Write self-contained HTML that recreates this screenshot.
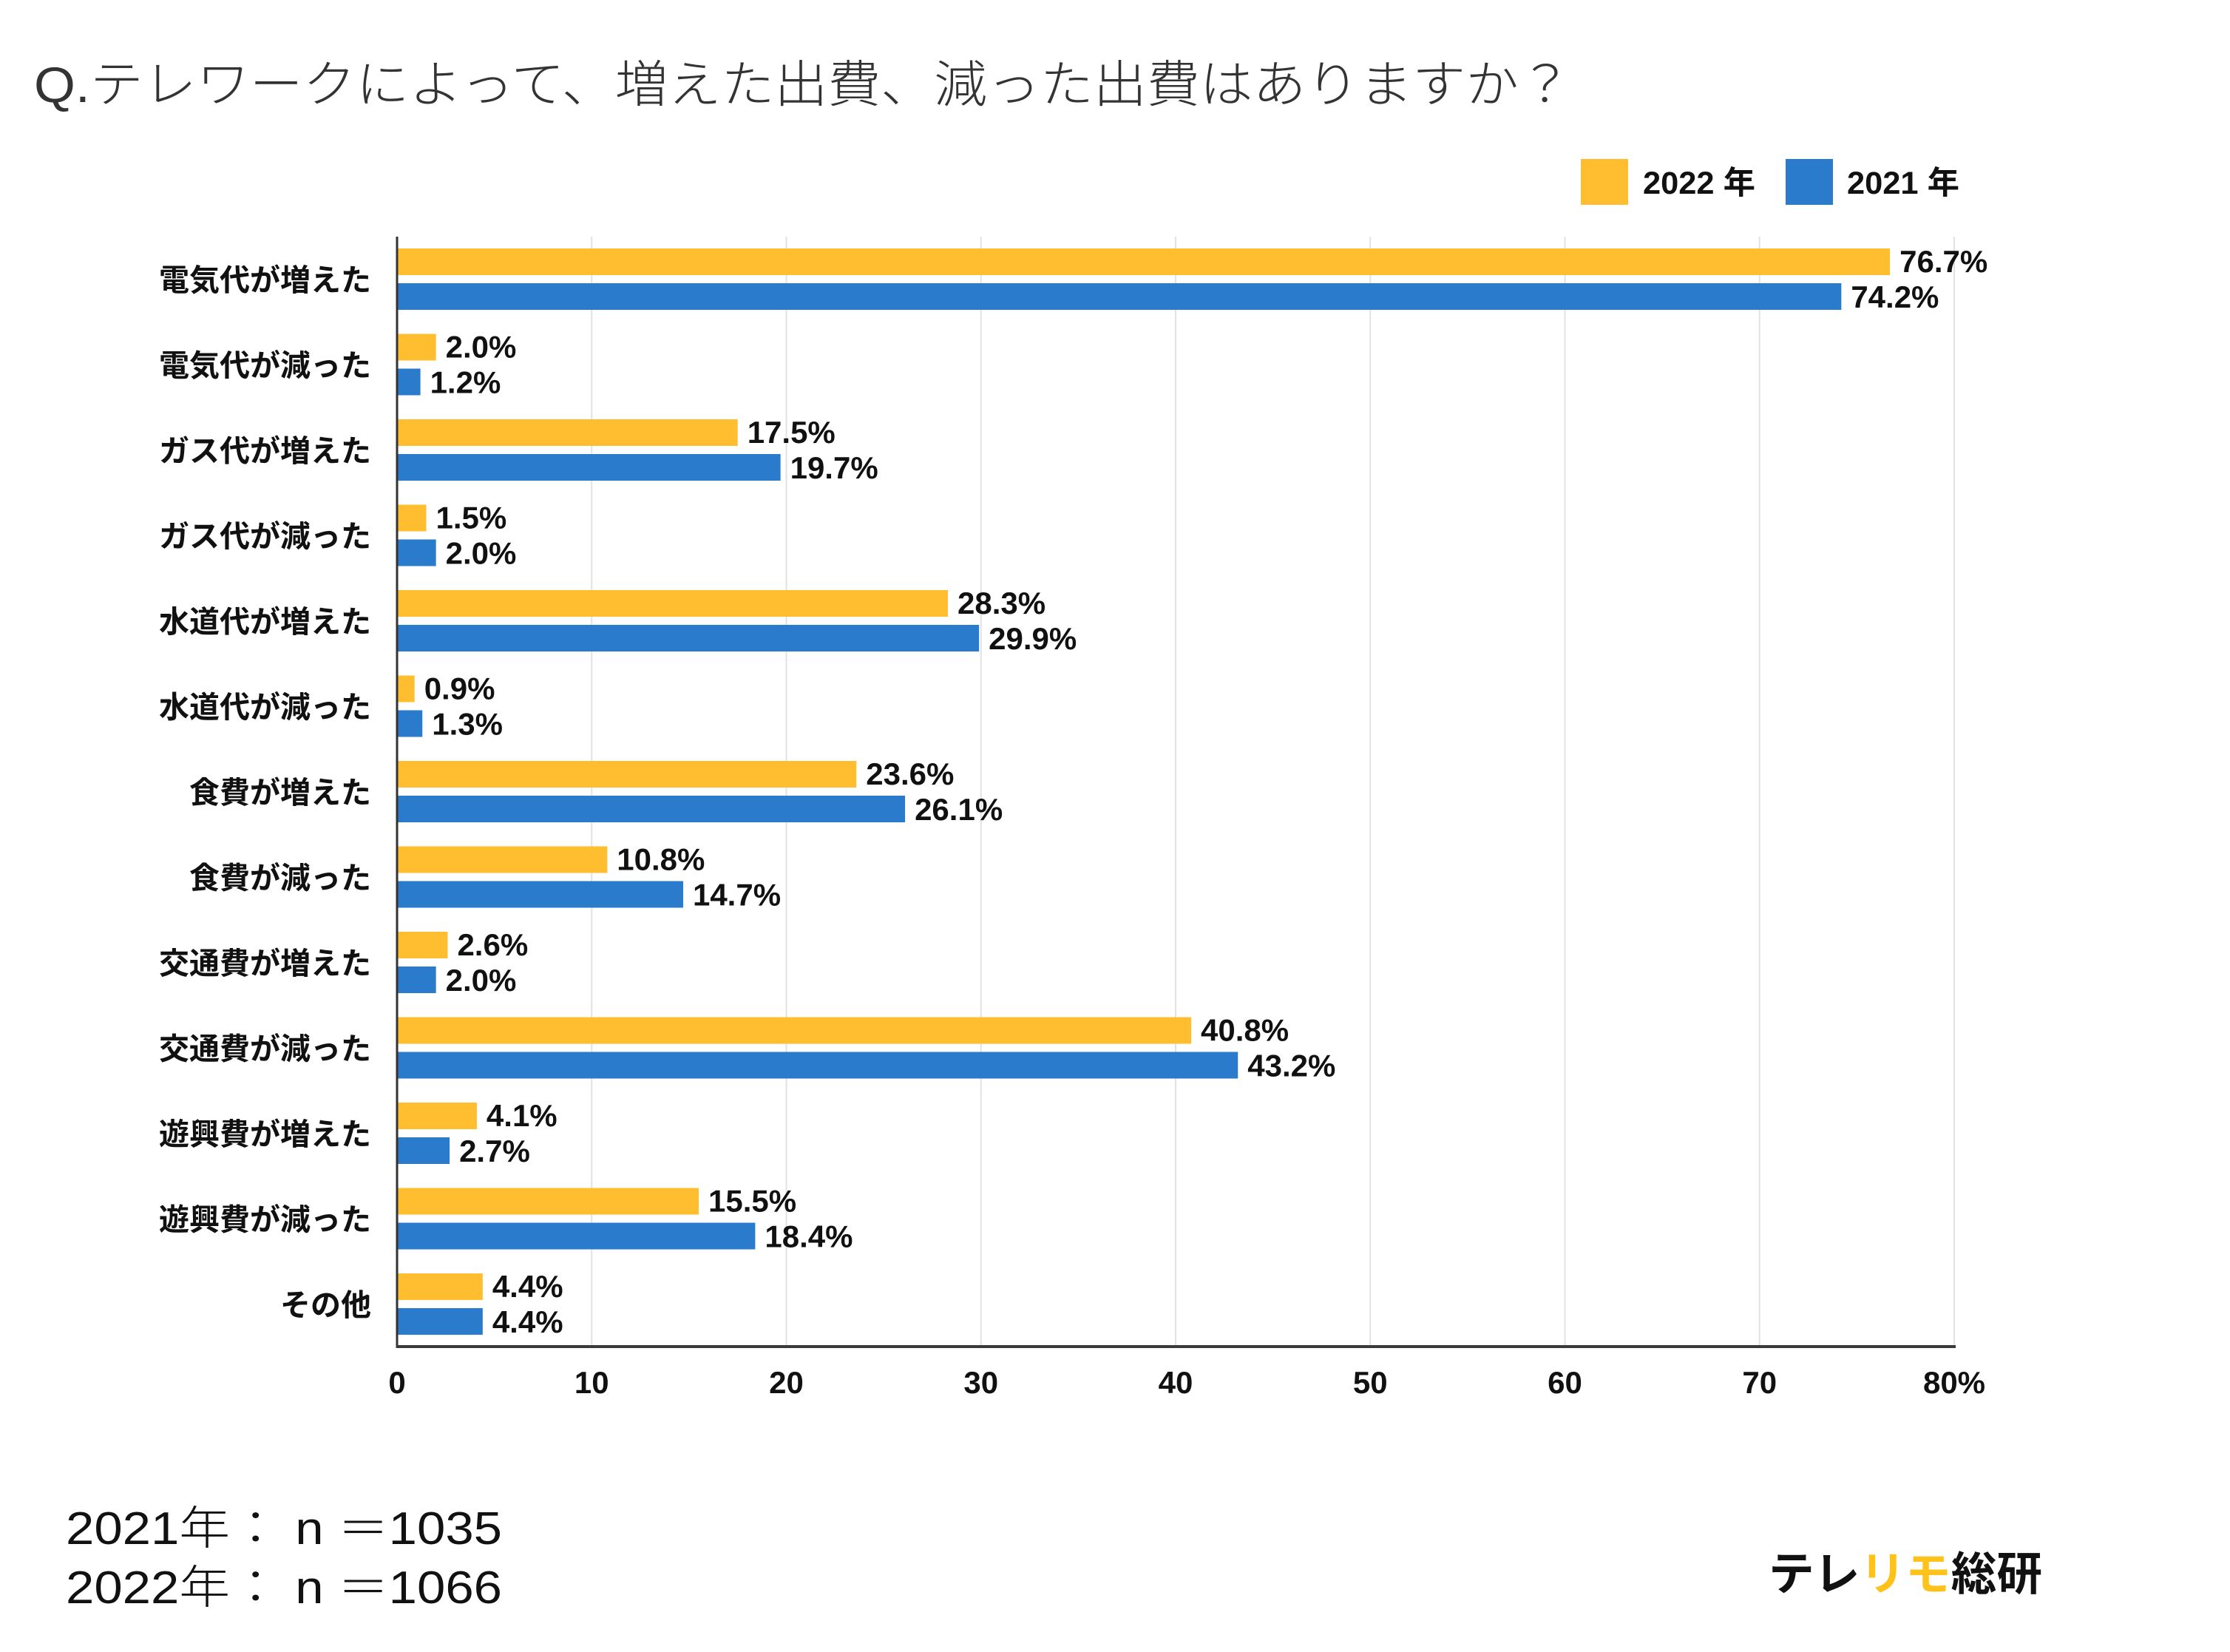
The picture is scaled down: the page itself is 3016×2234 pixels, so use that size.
<!DOCTYPE html>
<html><head><meta charset="utf-8"><style>
html,body{margin:0;padding:0;background:#fff;}
svg{display:block;}
text{font-family:"Liberation Sans","Noto Sans CJK JP",sans-serif;}
</style></head><body>
<svg id="chart" width="3016" height="2234" viewBox="0 0 3016 2234" xmlns="http://www.w3.org/2000/svg">
<rect x="0" y="0" width="3016" height="2234" fill="#fff"/>
<text x="46" y="138" font-size="68" fill="#333" font-weight="300" textLength="2080" lengthAdjust="spacingAndGlyphs">Q.テレワークによって、増えた出費、減った出費はありますか？</text>
<g>
<rect x="2138" y="215" width="64" height="62" fill="#FFBD30"/>
<text x="2222" y="262" font-size="43" font-weight="bold" fill="#111" textLength="152" lengthAdjust="spacingAndGlyphs">2022 年</text>
<rect x="2415" y="215" width="64" height="62" fill="#2A7BCC"/>
<text x="2498" y="262" font-size="43" font-weight="bold" fill="#111" textLength="152" lengthAdjust="spacingAndGlyphs">2021 年</text>
</g>
<g id="grid"></g>
<g id="bars"></g>
<g id="axes"></g>
<text x="89" y="2088" font-size="62" fill="#111" font-weight="300" textLength="590" lengthAdjust="spacingAndGlyphs">2021年： n ＝1035</text>
<text x="89" y="2168" font-size="62" fill="#111" font-weight="300" textLength="590" lengthAdjust="spacingAndGlyphs">2022年： n ＝1066</text>
<text x="2392" y="2150" font-size="62" font-weight="bold" fill="#111" textLength="370" lengthAdjust="spacingAndGlyphs">テレ<tspan fill="#FFC21A">リモ</tspan>総研</text>
</svg>
<script>
const categories = ["電気代が増えた","電気代が減った","ガス代が増えた","ガス代が減った","水道代が増えた","水道代が減った","食費が増えた","食費が減った","交通費が増えた","交通費が減った","遊興費が増えた","遊興費が減った","その他"];
const values2022 = [76.7,2.0,17.5,1.5,28.3,0.9,23.6,10.8,2.6,40.8,4.1,15.5,4.4];
const values2021 = [74.2,1.2,19.7,2.0,29.9,1.3,26.1,14.7,2.0,43.2,2.7,18.4,4.4];
const xTicks = [0,10,20,30,40,50,60,70,80];
const xTickLabels = ["0","10","20","30","40","50","60","70","80%"];

const NS = "http://www.w3.org/2000/svg";
const X0 = 537, X1 = 2643, XMAX = 80;
const TOP = 320, AXY = 1821;
const C0 = 378, STEP = 115.5;
function xScale(v){ return X0 + (X1 - X0) * v / XMAX; }
function yCenter(i){ return C0 + STEP * i; }
function mk(tag, attrs, parent){
  const el = document.createElementNS(NS, tag);
  for (const k in attrs) el.setAttribute(k, attrs[k]);
  parent.appendChild(el);
  return el;
}
const grid = document.getElementById('grid');
const bars = document.getElementById('bars');
const axes = document.getElementById('axes');

xTicks.forEach((t, i) => {
  if (t > 0) {
    const l = mk('line', {x1: xScale(t), x2: xScale(t), y1: TOP, y2: AXY, stroke: '#e2e2e2', 'stroke-width': 2}, grid);
    
    
  }
  const tx = mk('text', {x: xScale(t), y: 1884, 'font-size': 42, 'font-weight': 'bold', fill: '#111', 'text-anchor': 'middle'}, axes);
  tx.textContent = xTickLabels[i];
  
  
});

categories.forEach((c, i) => {
  const cy = yCenter(i);
  const lab = mk('text', {x: 502, y: cy + 15, 'font-size': 41, 'font-weight': 'bold', fill: '#111', 'text-anchor': 'end'}, axes);
  lab.textContent = c;
  
  

  const v1 = values2022[i];
  const b1 = mk('rect', {x: X0, y: cy - 42, width: xScale(v1) - X0, height: 36, fill: '#FFBD30'}, bars);
  
  
  const t1 = mk('text', {x: xScale(v1) + 13, y: cy - 10, 'font-size': 42, 'font-weight': 'bold', fill: '#111'}, bars);
  t1.textContent = v1.toFixed(1) + '%';
  
  

  const v2 = values2021[i];
  const b2 = mk('rect', {x: X0, y: cy + 5, width: xScale(v2) - X0, height: 36, fill: '#2A7BCC'}, bars);
  
  
  const t2 = mk('text', {x: xScale(v2) + 13, y: cy + 38, 'font-size': 42, 'font-weight': 'bold', fill: '#111'}, bars);
  t2.textContent = v2.toFixed(1) + '%';
  
  
});

const ya = mk('line', {x1: X0, x2: X0, y1: TOP, y2: AXY + 2, stroke: '#333', 'stroke-width': 3}, axes);


const xa = mk('line', {x1: X0 - 1, x2: X1 + 2, y1: AXY, y2: AXY, stroke: '#3a3a3a', 'stroke-width': 4}, axes);


</script>
</body></html>
